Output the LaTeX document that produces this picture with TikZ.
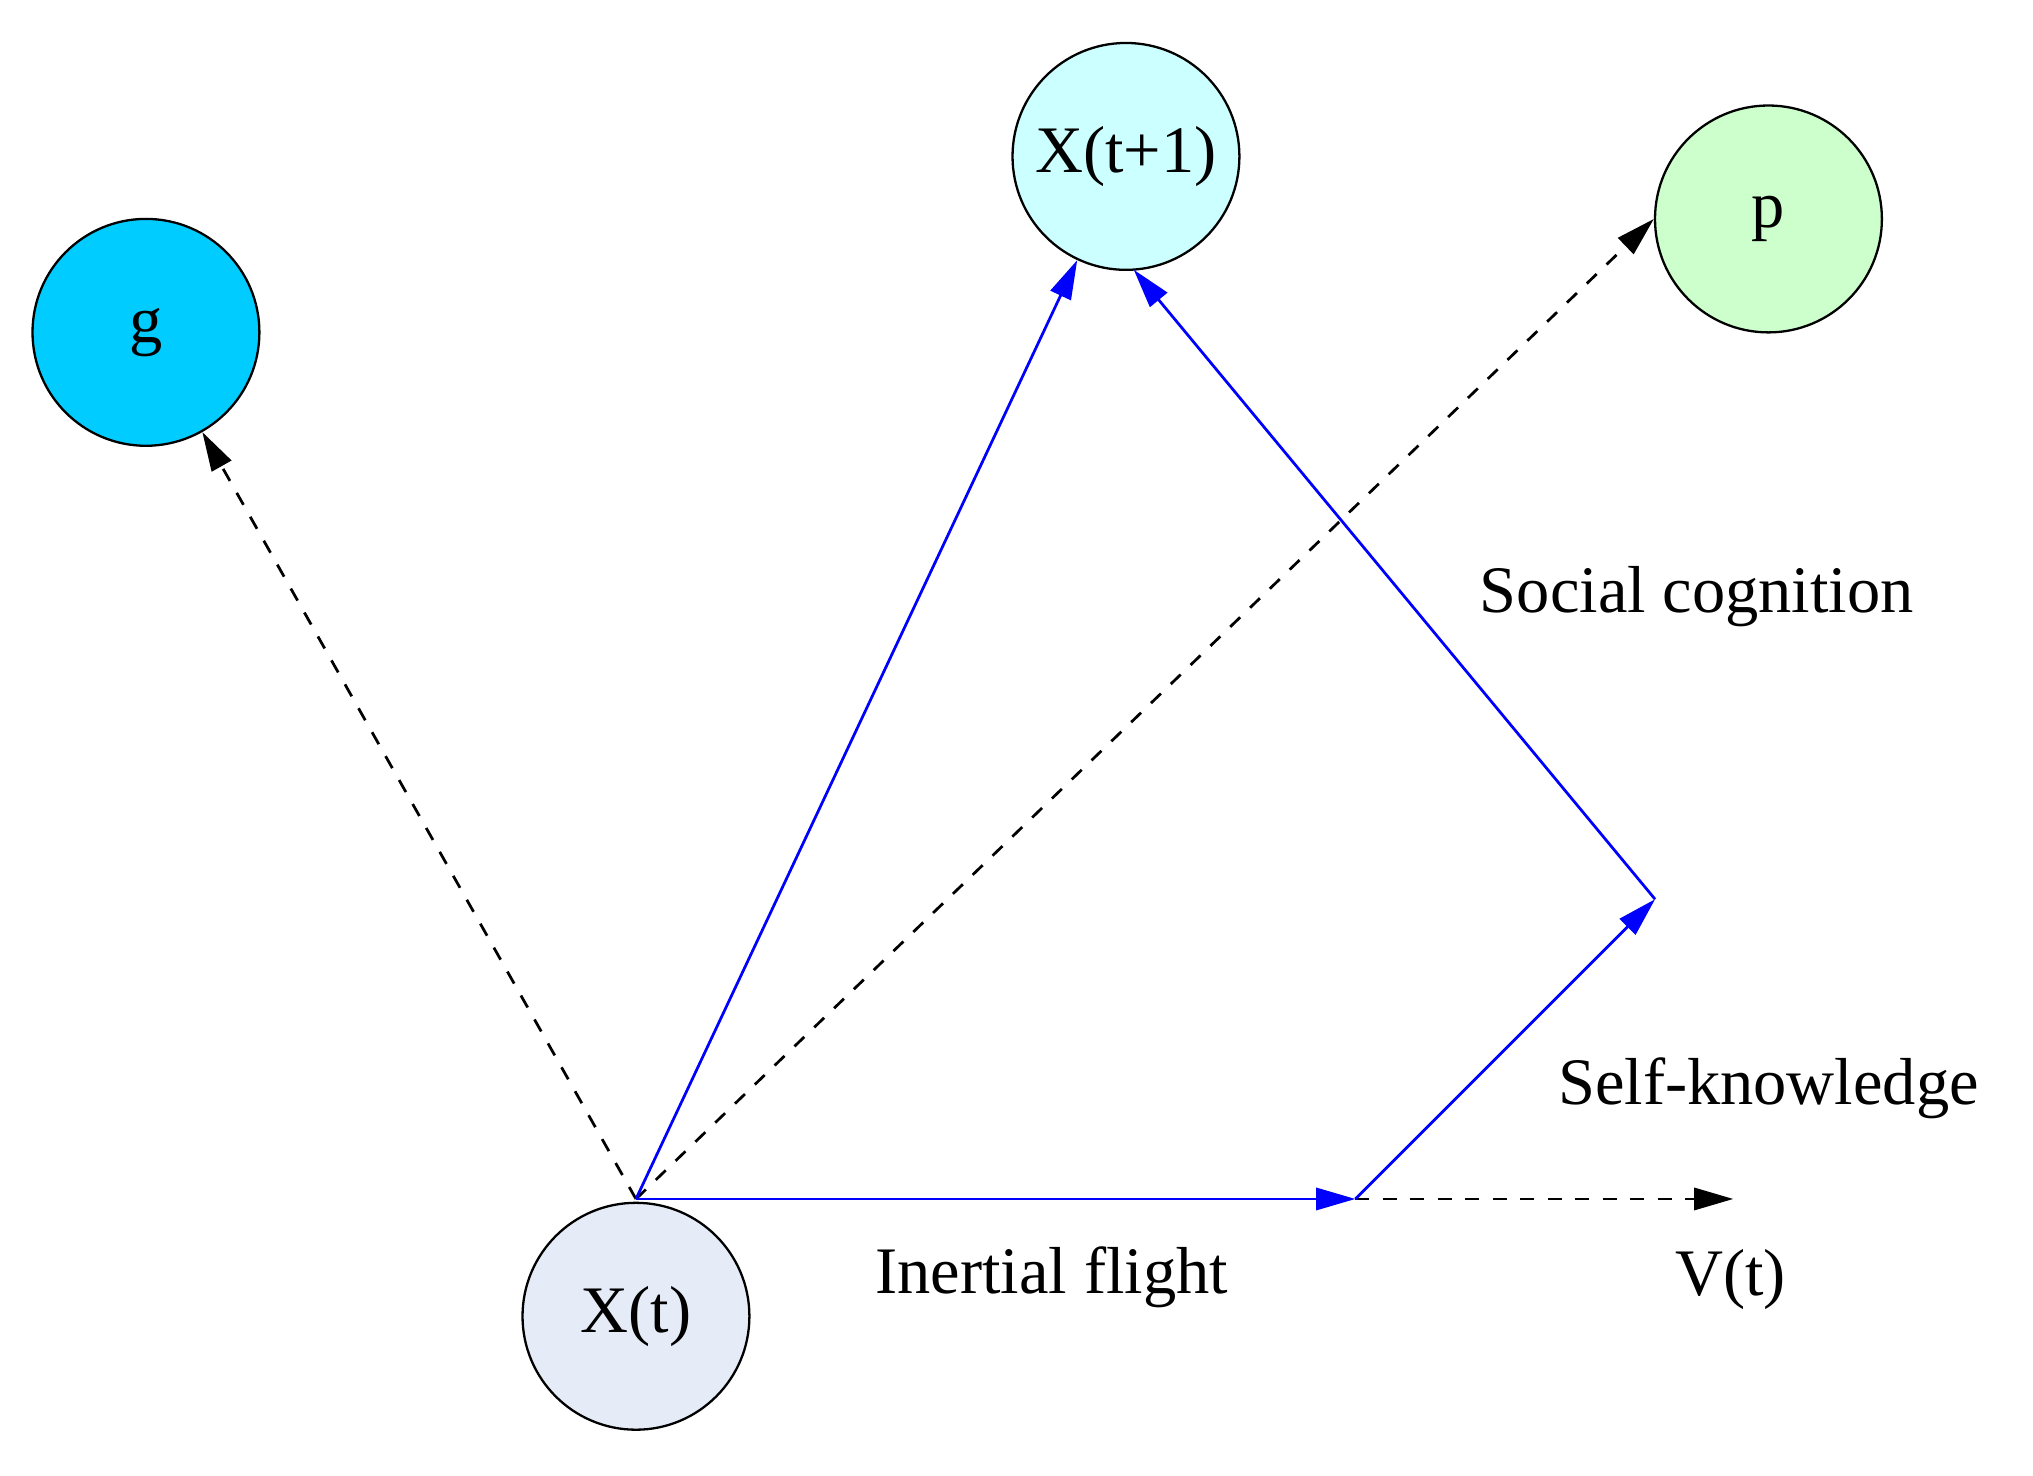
\documentclass[tikz,border=0pt]{standalone}
\usepackage{fontspec}
\setmainfont{Liberation Serif}
\usetikzlibrary{arrows.meta}
\begin{document}
\begin{tikzpicture}[x=0.01cm,y=-0.01cm,
  circ/.style={circle,draw=black,line width=0.5pt,minimum size=1.74cm,inner sep=0pt,font=\fontsize{14.5}{16}\selectfont},
  lab/.style={font=\fontsize{14.5}{16}\selectfont,inner sep=0pt},
  tip/.style={-{Triangle[length=0.3cm,width=0.17cm]}},
  dsh/.style={tip,dashed,black,line width=0.6pt},
  blu/.style={tip,blue,line width=0.6pt}]
\useasboundingbox (0,0) rectangle (1560,1132);
\definecolor{cg}{HTML}{00CCFF}
\definecolor{cx}{HTML}{CCFFFF}
\definecolor{cp}{HTML}{CCFFCC}
\definecolor{ct}{HTML}{E6ECF7}
\node[circ,fill=cg] (g) at (112,255) {g};
\node[circ,fill=cx] (x1) at (864,120) {X(t+1)};
\node[circ,fill=cp] (p) at (1357,168) {p};
\node[circ,fill=ct] (xt) at (488,1010) {X(t)};
\coordinate (o) at (488,920);
\coordinate (a) at (1040,920);
\coordinate (b) at (1270,690);
\coordinate (v) at (1330,920);
\draw[dsh] (o) -- (g);
\draw[dsh] (o) -- (p.west);
\draw[dsh] (a) -- (v);
\draw[blu] (o) -- (x1);
\draw[blu] (o) -- (a);
\draw[blu] (a) -- (b);
\draw[blu] (b) -- (870,207);
\node[lab] (sc) at (1302,458) {Social cognition};
\node[lab] (sk) at (1357,835) {Self-knowledge};
\node[lab] (if) at (807,980) {Inertial flight};
\node[lab] (vt) at (1328,982) {V(t)};
\end{tikzpicture}
\end{document}
